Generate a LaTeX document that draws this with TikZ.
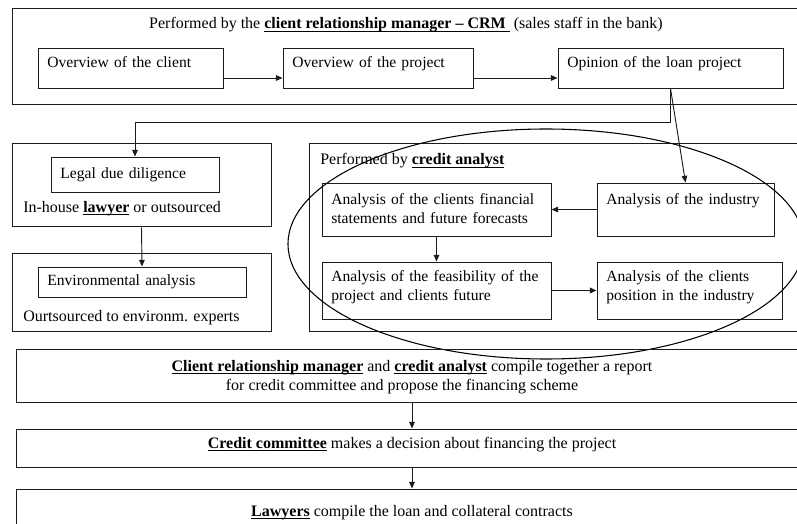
\documentclass[tikz,border=0pt]{standalone}
\usepackage{fontspec}
\setmainfont{Liberation Serif}
\usepackage{tikz}
\usetikzlibrary{arrows.meta}
\definecolor{inkline}{HTML}{1C1C1C}
\newcommand{\who}[1]{\underline{\smash{\textbf{#1}}}}
\tikzset{
  lp base/.style={font=\fontsize{12pt}{14pt}\selectfont, inner sep=0pt, text=black},
  lp frame/.style={lp base, draw=inkline, line width=0.75pt},
  lp step/.style={lp base, font=\fontsize{11.7pt}{14pt}\selectfont, draw=inkline, line width=0.7pt,
                  align=left, inner xsep=7pt, text height=8.3pt,
                  execute at begin node={\hyphenpenalty=10000\exhyphenpenalty=10000\relax}},
  lp wide/.style={lp base, draw=inkline, line width=0.7pt, align=center, minimum width=594pt},
  lp note/.style={lp base, anchor=west},
  lp arr/.style={-{Triangle[length=5pt, width=4.2pt]}, line width=0.7pt, inkline},
  lp ring/.style={draw=black, line width=0.8pt},
}
\begin{document}
\begin{tikzpicture}[x=0.75pt, y=-0.75pt]
  \useasboundingbox (0,0) rectangle (797,524);
  \clip (0,0) rectangle (797,524);
  % row 1: work of the client relationship manager
  \node[lp frame, minimum width=591pt, minimum height=72pt] (crm) at (406,57) {};
  \node[lp base] (crmhead) at (406,25) {Performed by the \who{client relationship manager -- CRM~}\ (sales staff in the bank)};
  \node[lp step, text width=124.75pt, minimum height=30pt, text depth=8.5pt] (client) at (130.5,68) {Overview of the client};
  \node[lp step, text width=128.5pt, minimum height=30pt, text depth=8.5pt] (project) at (378,68) {Overview of the project};
  \node[lp step, text width=154.75pt, minimum height=30pt, text depth=8.5pt] (opinion) at (670.5,68) {Opinion of the loan project};
  \foreach \a/\b in {client/project,project/opinion}
    \draw[lp arr] ([yshift=-7.5pt]\a.east) -- ([yshift=-7.5pt]\b.west);
  % left column: lawyer and environment experts
  \node[lp frame, minimum width=194.25pt, minimum height=62.25pt] (legalbox) at (141.5,185.5) {};
  \node[lp step, text width=112pt, minimum height=26.25pt] (legal) at (135,174.5) {Legal due diligence};
  \node[lp note] (legalnote) at (23,208) {In-house \who{lawyer} or outsourced};
  \node[lp frame, minimum width=194.25pt, minimum height=58.5pt] (envbox) at (141.5,293) {};
  \node[lp step, text width=142pt, minimum height=22.5pt] (env) at (142,282) {Environmental analysis};
  \node[lp note] (envnote) at (23,318) {Ourtsourced to environm. experts};
  \draw[lp arr] (opinion.south) -- ++(0,34) -| (legal.north);
  \draw[lp arr] (legalbox.south) -- (env.north);
  % right block: credit analyst
  \node[lp frame, minimum width=374.25pt, minimum height=141pt] (analyst) at (558.5,238) {};
  \node[lp note] (analysthead) at (320,161) {Performed by \who{credit analyst}};
  \node[lp step, text width=157.75pt, minimum height=39.75pt, text depth=15.5pt] (financial) at (436.5,209.5) {Analysis of the clients financial\\statements and future forecasts};
  \node[lp step, text width=118.75pt, minimum height=39.75pt, text depth=15.5pt] (industry) at (685.5,209.5) {Analysis of the industry};
  \node[lp step, text width=157.75pt, minimum height=42.75pt, text depth=22pt] (feasible) at (436.5,290.5) {Analysis of the feasibility of the\\project and clients future};
  \node[lp step, text width=124.75pt, minimum height=42.75pt, text depth=22pt] (position) at (689.5,290.5) {Analysis of the clients\\position in the industry};
  \draw[lp arr] (opinion.south) -- (industry.north);
  \draw[lp arr] (industry.west) -- (financial.east);
  \draw[lp arr] (financial.south) -- (feasible.north);
  \draw[lp arr, line width=1.2pt] (feasible.east) -- (position.west);
  \draw[lp ring] (546,244) ellipse [x radius=193.5pt, y radius=86.25pt];
  % bottom rows: report, decision, contracts
  \node[lp wide, minimum height=39.75pt, text depth=0pt] (report) at (412,375.5) {\who{Client relationship manager} and \who{credit analyst} compile together a report\\for credit committee and propose the financing scheme\hspace*{15pt}};
  \node[lp wide, minimum height=28.5pt, text height=8.3pt, text depth=7.5pt] (decision) at (412,448) {\who{Credit committee} makes a decision about financing the project};
  \node[lp wide, minimum height=36pt] (contracts) at (412,513) {\who{Lawyers} compile the loan and collateral contracts};
  \draw[lp arr] (report.south) -- (decision.north);
  \draw[lp arr] (decision.south) -- (contracts.north);
\end{tikzpicture}
\end{document}
